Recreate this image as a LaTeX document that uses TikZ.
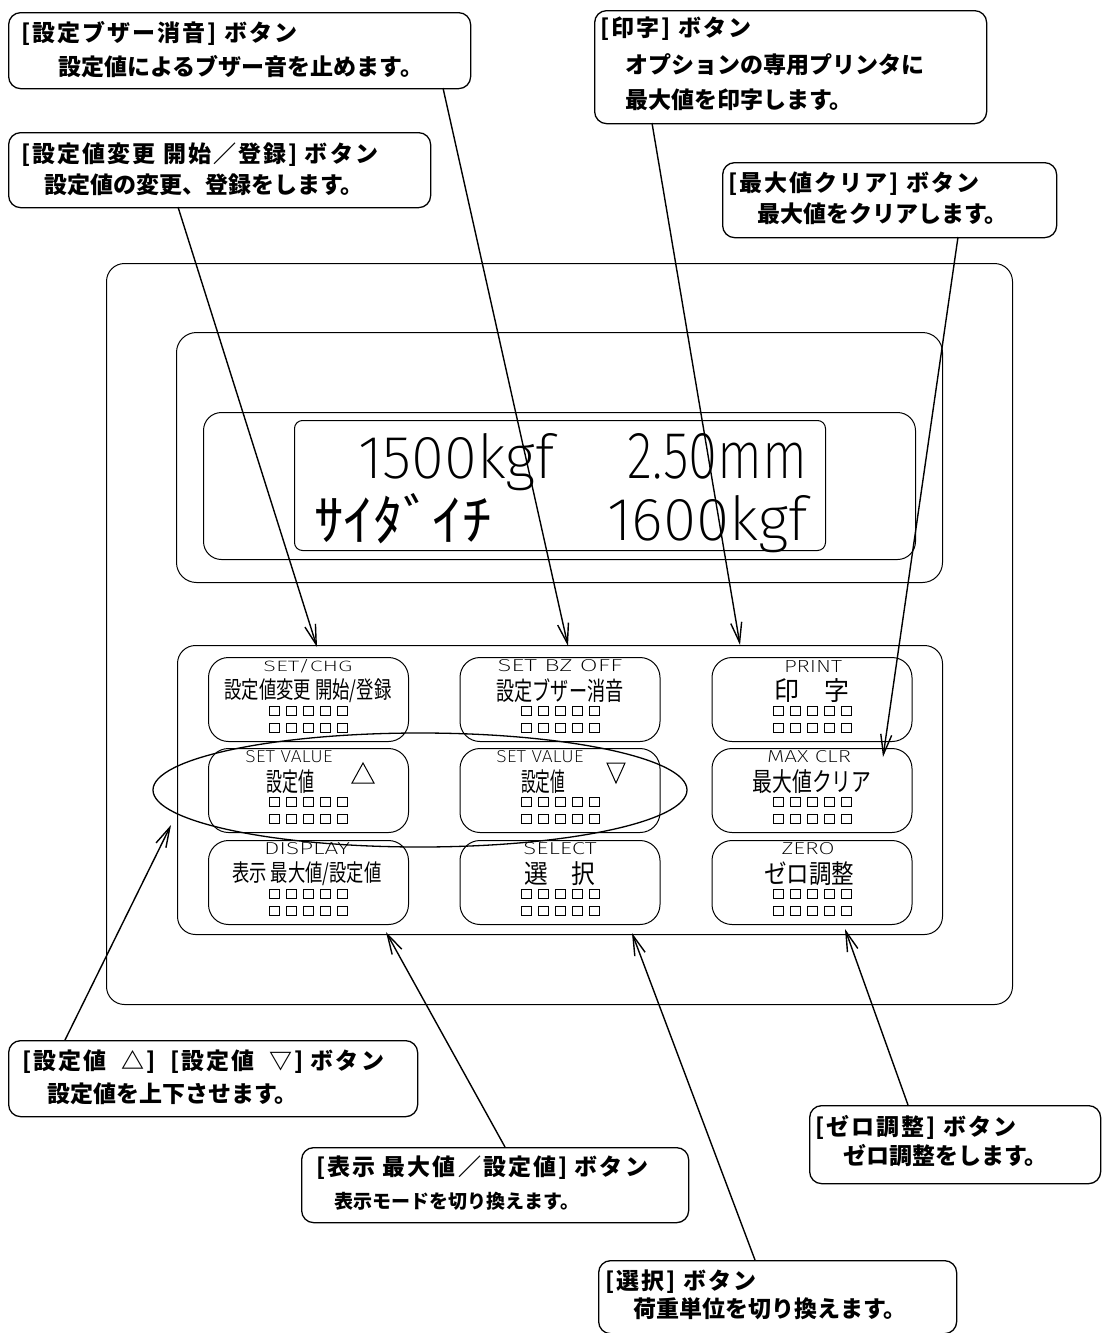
\documentclass[tikz,border=0pt]{standalone}
\usepackage{fontspec}
\setmainfont{DejaVu Sans}
\newfontfamily\jp{Noto Sans CJK JP}
\newfontfamily\jpls[LetterSpace=9]{Noto Sans CJK JP}
\IfFontExistsTF{FiraSans-ExtraLight.otf}
  {\newfontfamily\thin{FiraSans-ExtraLight.otf}}
  {\IfFontExistsTF{Fira Sans ExtraLight}
     {\newfontfamily\thin{Fira Sans ExtraLight}}
     {\newfontfamily\thin{Liberation Mono}}}
\usetikzlibrary{arrows.meta}
\tikzset{
  cbox/.style={draw, line width=1.3pt, rounded corners=12pt, inner sep=0pt, anchor=north west},
  chead/.style={anchor=base west, inner sep=0pt, font=\jpls\bfseries\fontsize{23pt}{25pt}\selectfont},
  ctext/.style={anchor=base west, inner sep=0pt, font=\jp\bfseries\fontsize{23pt}{25pt}\selectfont},
  csmall/.style={anchor=base west, inner sep=0pt, font=\jp\bfseries\fontsize{19pt}{21pt}\selectfont},
  lead/.style={line width=1.4pt, -{Straight Barb[length=20pt,width=11pt]}},
  frame/.style={draw, line width=1pt, inner sep=0pt, anchor=north west},
  btn/.style={draw, line width=1pt, rounded corners=20pt, minimum width=200pt, minimum height=84pt, inner sep=0pt, anchor=north},
  lbl/.style={inner sep=0pt},
  sqr/.style={line width=0.9pt},
}
\newcommand\boxat[5]{\node[cbox, minimum width=#4pt, minimum height=#5pt] (#1) at (#2,#3) {};}
\newcommand\frameat[6]{\node[frame, rounded corners=#6pt, minimum width=#4pt, minimum height=#5pt] (#1) at (#2,#3) {};}
\newcommand\sqrow[2]{\foreach \i in {-2,...,2}{\draw[sqr] ({#1+\i*17-5},{#2}) rectangle ++(10,9);}}
\newcommand\button[3]{\node[btn] (#1) at (#2,#3) {};\sqrow{#2}{#3+49}\sqrow{#2}{#3+66}}
\newcommand\en[2]{\resizebox{#1pt}{12pt}{\thin #2}}
\newcommand\ja[2]{\resizebox*{#1pt}{24pt}{\jp #2}}
\begin{document}
\begin{tikzpicture}[x=1pt,y=-1pt]
\useasboundingbox (0,0) rectangle (1101,1333);
% panel
\frameat{panel}{106}{263}{906}{741}{18}
\frameat{dispout}{176}{332}{766}{250}{20}
\frameat{dispmid}{203}{412}{712}{147}{18}
\frameat{disptxt}{294}{420}{531}{130}{8}
\frameat{group}{177}{645}{765}{289}{18}
% LCD text
\node[lbl, anchor=base west] (l1a) at (358,478) {\resizebox{196pt}{45pt}{\thin 1500kgf}};
\node[lbl, anchor=base west] (l1b) at (627,478) {\resizebox{180pt}{45pt}{\thin 2.50mm}};
\node[lbl, anchor=base west] (l2a) at (314,540) {\resizebox{178pt}{47pt}{\jp ｻｲﾀﾞｲﾁ}};
\node[lbl, anchor=base west] (l2b) at (607,540) {\resizebox{200pt}{45pt}{\thin 1600kgf}};
% buttons
\button{b11}{308.5}{657}
\button{b12}{560}{657}
\button{b13}{812}{657}
\button{b21}{308.5}{748}
\button{b22}{560}{748}
\button{b23}{812}{748}
\button{b31}{308.5}{840}
\button{b32}{560}{840}
\button{b33}{812}{840}
% button labels
\node[lbl] (t11e) at (308,666) {\en{89}{SET/CHG}};
\node[lbl] (t11j) at (308,691) {\ja{167}{設定値変更\ 開始/登録}};
\node[lbl] (t12e) at (560,666) {\en{125}{SET BZ OFF}};
\node[lbl] (t12j) at (560,691) {\ja{127}{設定ブザー消音}};
\node[lbl] (t13e) at (813,666) {\en{58}{PRINT}};
\node[lbl] (t13j) at (812,691) {\ja{75}{印\hspace{1em}字}};
\node[lbl] (t21e) at (289,757) {\en{87}{SET VALUE}};
\node[lbl] (t21j) at (290,782) {\ja{48}{設定値}};
\draw[line width=1pt] (352,783) -- (374,783) -- (363,763) -- cycle;
\node[lbl] (t22e) at (540,757) {\en{87}{SET VALUE}};
\node[lbl] (t22j) at (543,782) {\ja{44}{設定値}};
\draw[line width=1pt] (607,763) -- (625,763) -- (616,783) -- cycle;
\node[lbl] (t23e) at (809,757) {\en{84}{MAX CLR}};
\node[lbl] (t23j) at (812,782) {\ja{119}{最大値クリア}};
\node[lbl] (t31e) at (307,849) {\en{86}{DISPLAY}};
\node[lbl] (t31j) at (307,874) {\ja{149}{表示\ 最大値/設定値}};
\node[lbl] (t32e) at (560,849) {\en{73}{SELECT}};
\node[lbl] (t32j) at (560,874) {\ja{71}{選\hspace{1em}択}};
\node[lbl] (t33e) at (808,849) {\en{53}{ZERO}};
\node[lbl] (t33j) at (809,874) {\ja{90}{ゼロ調整}};
% ellipse
\draw[line width=1.3pt] (420,790) ellipse [x radius=267pt, y radius=57pt];
% callouts
\boxat{cA}{8}{12}{462}{76}
\node[chead] (cA1) at (21,41) {[設定ブザー消音] ボタン};
\node[ctext] (cA2) at (58,75) {設定値によるブザー音を止めます。};
\boxat{cB}{8}{132}{422}{75}
\node[chead] (cB1) at (21,162) {[設定値変更 開始／登録] ボタン};
\node[ctext] (cB2) at (44,193) {設定値の変更、登録をします。};
\boxat{cC}{594}{10}{392}{113}
\node[chead] (cC1) at (600,36) {[印字] ボタン};
\node[ctext] (cC2) at (625,73) {オプションの専用プリンタに};
\node[ctext] (cC3) at (625,108) {最大値を印字します。};
\boxat{cD}{722}{162}{334}{75}
\node[chead] (cD1) at (728,191) {[最大値クリア] ボタン};
\node[ctext] (cD2) at (757,222) {最大値をクリアします。};
\boxat{cE}{8}{1040}{409}{76}
\node[chead] (cE1) at (22,1069) {[設定値\ \ △]\ \ [設定値\ \ ▽] ボタン};
\node[ctext] (cE2) at (47,1102) {設定値を上下させます。};
\boxat{cF}{301}{1147}{387}{75}
\node[chead] (cF1) at (316,1175) {[表示 最大値／設定値] ボタン};
\node[csmall] (cF2) at (334,1208) {表示モードを切り換えます。};
\boxat{cG}{809}{1105}{291}{78}
\node[chead] (cG1) at (815,1135) {[ゼロ調整] ボタン};
\node[ctext] (cG2) at (843,1164) {ゼロ調整をします。};
\boxat{cH}{598}{1260}{358}{73}
\node[chead] (cH1) at (605,1289) {[選択] ボタン};
\node[ctext] (cH2) at (633,1317) {荷重単位を切り換えます。};
% leader lines
\coordinate (sA) at (443,88);   \coordinate (eA) at (568,646);
\coordinate (sB) at (178,207);  \coordinate (eB) at (317,647);
\coordinate (sC) at (652,123);  \coordinate (eC) at (740,645);
\coordinate (sD) at (958,237);  \coordinate (eD) at (883,757);
\coordinate (sE) at (65,1040);  \coordinate (eE) at (171,825);
\coordinate (sF) at (505,1147); \coordinate (eF) at (386,932);
\coordinate (sG) at (908,1105); \coordinate (eG) at (845,929);
\coordinate (sH) at (755,1260); \coordinate (eH) at (632,933);
\foreach \k in {A,B,C,D,E,F,G,H}{\draw[lead] (s\k) -- (e\k);}
\end{tikzpicture}
\end{document}
